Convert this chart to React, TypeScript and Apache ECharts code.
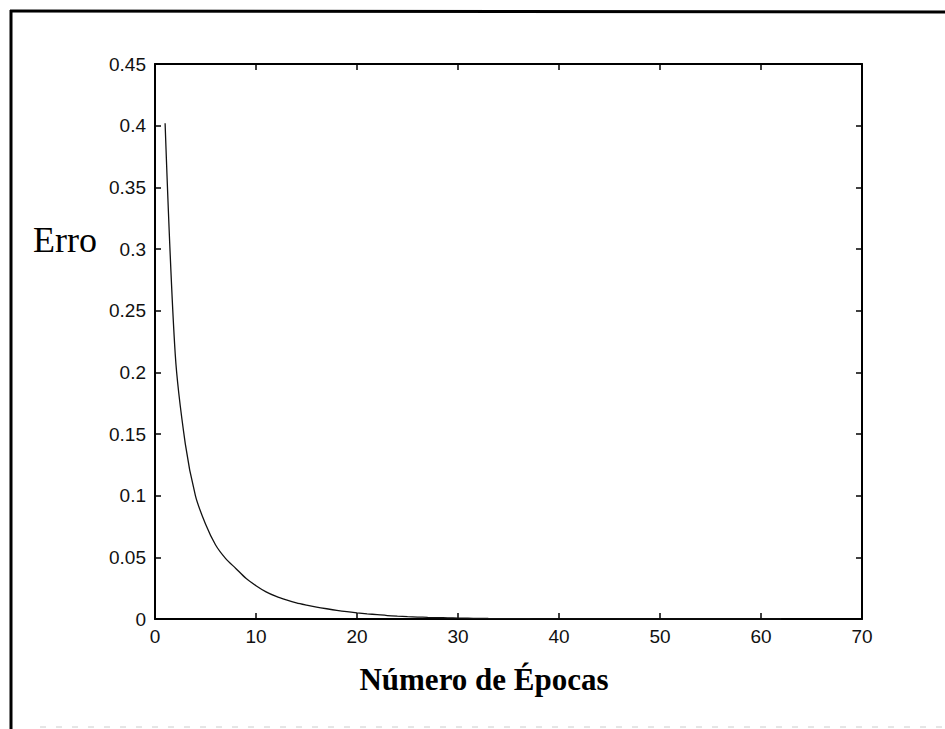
import React, { useEffect, useRef } from "react";
import * as echarts from "echarts";

const epochs: number[] = [];
for (let i = 1; i <= 62; i++) epochs.push(i);

const errorValues: number[] = [
  0.402, 0.215, 0.142, 0.1, 0.077, 0.06, 0.049, 0.041, 0.033, 0.027,
  0.022, 0.0183, 0.0155, 0.0131, 0.0113, 0.0097, 0.0083, 0.007, 0.0059, 0.005,
  0.0042, 0.0035, 0.0028, 0.0023, 0.0019, 0.0016, 0.0013, 0.0011, 0.0009, 0.0007,
  0.0006, 0.0005, 0.0004, 0.00035, 0.0003, 0.00025, 0.0002, 0.00016, 0.00013, 0.0001,
  0.00008, 0.00006, 0.00005, 0.00004, 0.00003, 0.00002, 0.00002, 0.00001, 0.00001, 0.00001,
  0, 0, 0, 0, 0, 0, 0, 0, 0, 0,
  0, 0,
];

const xTicks = [0, 10, 20, 30, 40, 50, 60, 70];
const yTicks = [0, 0.05, 0.1, 0.15, 0.2, 0.25, 0.3, 0.35, 0.4, 0.45];

const xAxisTitle = "Número de Épocas";
const yAxisTitle = "Erro";

const tickFont = "'Liberation Sans Narrow', 'Liberation Sans', Arial, sans-serif";
const serif = "'Liberation Serif', 'Times New Roman', serif";

export default function App() {
  const ref = useRef<HTMLDivElement>(null);
  useEffect(() => {
    if (!ref.current) return;
    const chart = echarts.init(ref.current, null, { renderer: "svg" });
    const axisLine = { show: true, onZero: false, lineStyle: { color: "#000", width: 2 } };
    const tick = { show: true, inside: true, length: 6, lineStyle: { color: "#000", width: 1.5 } };
    const labelStyle = { color: "#111", fontFamily: tickFont, fontSize: 19 };
    chart.setOption({
      animation: false,
      backgroundColor: "#fff",
      grid: { left: 155, top: 64, right: 83, bottom: 110, containLabel: false },
      xAxis: [
        {
          type: "value",
          min: xTicks[0],
          max: xTicks[xTicks.length - 1],
          interval: 10,
          position: "bottom",
          axisLine,
          axisTick: tick,
          splitLine: { show: false },
          axisLabel: { ...labelStyle, margin: 8, formatter: (v: number) => String(v) },
        },
        {
          type: "value",
          min: xTicks[0],
          max: xTicks[xTicks.length - 1],
          interval: 10,
          position: "top",
          axisLine,
          axisTick: tick,
          splitLine: { show: false },
          axisLabel: { show: false },
        },
      ],
      yAxis: [
        {
          type: "value",
          min: yTicks[0],
          max: yTicks[yTicks.length - 1],
          interval: 0.05,
          position: "left",
          axisLine,
          axisTick: tick,
          splitLine: { show: false },
          axisLabel: {
            ...labelStyle,
            margin: 9,
            formatter: (v: number) => String(Math.round(v * 100) / 100),
          },
        },
        {
          type: "value",
          min: yTicks[0],
          max: yTicks[yTicks.length - 1],
          interval: 0.05,
          position: "right",
          axisLine,
          axisTick: tick,
          splitLine: { show: false },
          axisLabel: { show: false },
        },
      ],
      series: [
        {
          type: "line",
          data: epochs.map((e, i) => [e, errorValues[i]]),
          showSymbol: false,
          symbol: "none",
          smooth: 0.3,
          lineStyle: { color: "#111", width: 1.3 },
          xAxisIndex: 0,
          yAxisIndex: 0,
        },
      ],
      graphic: [
        {
          type: "line",
          shape: { x1: 10, y1: 11, x2: 945, y2: 12 },
          style: { stroke: "#000", lineWidth: 3 },
        },
        {
          type: "line",
          shape: { x1: 11, y1: 10, x2: 11, y2: 729 },
          style: { stroke: "#000", lineWidth: 3 },
        },
        {
          type: "line",
          shape: { x1: 40, y1: 727, x2: 945, y2: 727 },
          style: { stroke: "#ccc", lineWidth: 1, lineDash: [6, 10] },
        },
        {
          type: "text",
          left: 33,
          top: 222,
          style: { text: yAxisTitle, fontFamily: serif, fontSize: 36, fill: "#000" },
        },
        {
          type: "text",
          x: 484,
          y: 664,
          style: {
            text: xAxisTitle,
            fontFamily: serif,
            fontSize: 31,
            fontWeight: "bold",
            fill: "#000",
            align: "center",
          },
        },
      ],
    });
    return () => chart.dispose();
  }, []);
  return (
    <div
      ref={ref}
      style={{ position: "fixed", left: 0, top: 0, width: 945, height: 729, background: "#fff" }}
    />
  );
}
